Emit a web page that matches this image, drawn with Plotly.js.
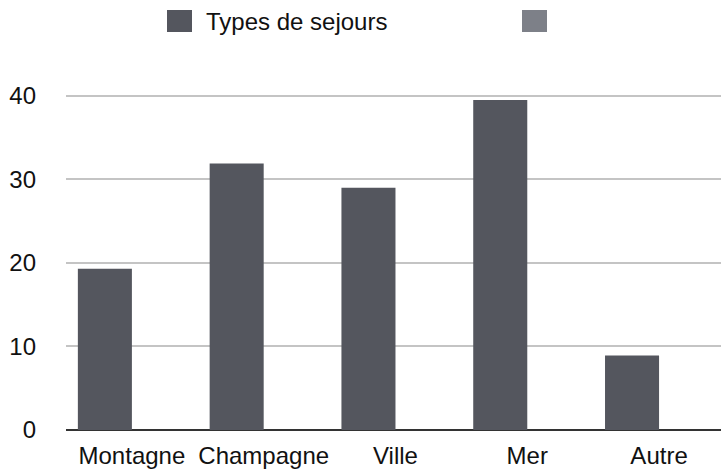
<!DOCTYPE html>
<html>
<head>
<meta charset="utf-8">
<script src="https://cdn.plot.ly/plotly-3.0.1.min.js"></script>
<style>html,body{margin:0;padding:0;background:#fff;}#chart{width:721px;height:469px;}</style>
</head>
<body>
<div id="chart"></div>
<script>
var categories = ["Montagne", "Champagne", "Ville", "Mer", "Autre"];
var sejours = [19.3, 31.9, 29.0, 39.5, 8.9];
var serie2 = [null, null, null, null, null];
var seriesNames = ["Types de sejours", ""];
var yTicks = [0, 10, 20, 30, 40];

var W = 721, H = 469;
var mL = 66, mR = 0, mB = 39, mT = 79;
var pw = W - mL - mR, ph = H - mT - mB;
function px(x) { return (x - mL) / pw; }
function py(y) { return (H - mB - y) / ph; }

var colors = ["#54565e", "#7d8088"];
var font = "Liberation Sans, Arial, Helvetica, sans-serif";

var traces = [
  {type: "bar", x: categories, y: sejours, name: seriesNames[0], marker: {color: colors[0]}, showlegend: false},
  {type: "bar", x: categories, y: serie2, name: seriesNames[1], marker: {color: colors[1]}, showlegend: false}
];

var shapes = [
  {type: "rect", xref: "paper", yref: "paper", x0: px(167), x1: px(192), y0: py(32), y1: py(10), fillcolor: colors[0], line: {width: 0}},
  {type: "rect", xref: "paper", yref: "paper", x0: px(522), x1: px(547), y0: py(32), y1: py(10), fillcolor: colors[1], line: {width: 0}}
];
var annotations = [
  {xref: "paper", yref: "paper", x: px(204), y: py(21), xanchor: "left", yanchor: "middle", text: seriesNames[0], showarrow: false, font: {family: font, size: 24, color: "#111"}}
];

var layout = {
  width: W, height: H,
  margin: {l: mL, r: mR, t: mT, b: mB, pad: 0},
  paper_bgcolor: "#fff", plot_bgcolor: "#fff",
  barmode: "group", bargap: 0.18, bargroupgap: 0,
  font: {family: font, size: 24, color: "#111"},
  xaxis: {type: "category", range: [-0.5, 4.47], showgrid: false, showline: false, zeroline: false, ticks: "", tickfont: {family: font, size: 24, color: "#111"}, ticklabelstandoff: 9, fixedrange: true},
  yaxis: {range: [0, 42], tickvals: yTicks, ticktext: yTicks.map(String), showgrid: true, gridcolor: "#c4c4c4", gridwidth: 2, zeroline: true, zerolinecolor: "#333", zerolinewidth: 2, showline: false, ticks: "", tickfont: {family: font, size: 24, color: "#111"}, ticklabelstandoff: 29, fixedrange: true},
  shapes: shapes,
  annotations: annotations,
  showlegend: false
};

Plotly.newPlot("chart", traces, layout, {displayModeBar: false, staticPlot: true});
</script>
</body>
</html>
